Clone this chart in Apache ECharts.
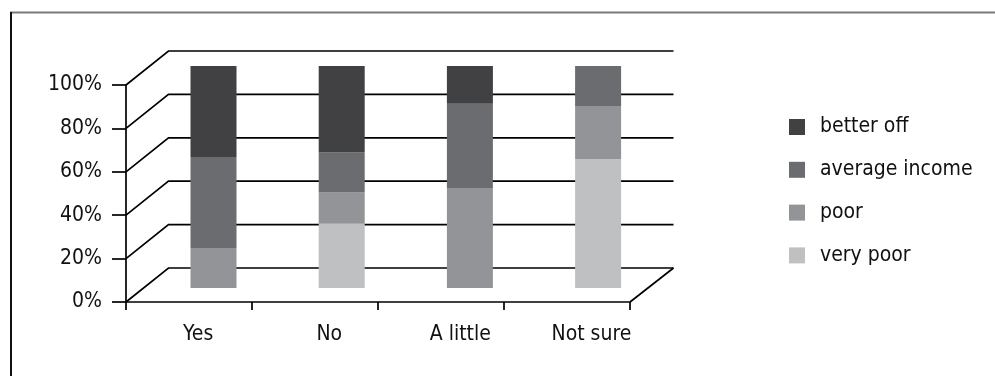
<!DOCTYPE html>
<html>
<head>
<meta charset="utf-8">
<title>Income group by answer</title>
<script src="https://cdn.jsdelivr.net/npm/echarts@6/dist/echarts.min.js"></script>
<style>
  html, body { margin: 0; padding: 0; background: #fff; }
  #chart { width: 995px; height: 376px; }
</style>
</head>
<body>
<div id="chart"></div>
<script>
// Answer categories along the floor
const categories = ['Yes', 'No', 'A little', 'Not sure'];

// Share of each income group per answer (percent, stacks to 100)
const veryPoor      = [0, 29, 0, 58];
const poor          = [18, 14, 45, 24];
const averageIncome = [41, 18, 38, 18];
const betterOff     = [41, 39, 17, 0];

// Value-axis ticks (percent)
const yTicks = [0, 20, 40, 60, 80, 100];

const seriesNames  = ['very poor', 'poor', 'average income', 'better off'];
const seriesValues = [veryPoor, poor, averageIncome, betterOff];
const seriesColors = ['#bfc0c2', '#939497', '#6b6c70', '#414143'];

const FONT = "'Liberation Sans Narrow', 'DejaVu Sans Condensed', 'Arial Narrow', sans-serif";
const FONT_SIZE = 21;

// Depth offset of the back wall relative to the front plane (pixels)
const DEPTH_X = 42.5;
const DEPTH_Y = -34;
const LINE = '#000';
const LINE_W = 1.7;

const chart = echarts.init(document.getElementById('chart'), null, { renderer: 'canvas' });

// Wall and floor lines: front-left point -> back-left corner -> back-right end
function renderWalls(params, api) {
  const cs = params.coordSys;
  const v = api.value(1);
  const y = api.coord([0, v])[1];
  const x0 = cs.x;
  const x1 = cs.x + cs.width;
  const children = [{
    type: 'polyline',
    shape: { points: [[x0, y], [x0 + DEPTH_X, y + DEPTH_Y], [x1 + DEPTH_X + 1, y + DEPTH_Y]] },
    style: { stroke: LINE, lineWidth: LINE_W, fill: null }
  }];
  if (v === 0) {
    children.push({
      type: 'line',
      shape: { x1: x1, y1: y, x2: x1 + DEPTH_X + 1, y2: y + DEPTH_Y },
      style: { stroke: LINE, lineWidth: LINE_W }
    });
  }
  return { type: 'group', children: children };
}

const barSeries = seriesNames.map((name, i) => ({
  name: name,
  type: 'bar',
  xAxisIndex: 1,
  yAxisIndex: 1,
  stack: 'share',
  barWidth: 46,
  z: 5,
  itemStyle: { color: seriesColors[i] },
  emphasis: { disabled: true },
  data: seriesValues[i]
}));

const option = {
  animation: false,
  textStyle: { fontFamily: FONT },
  graphic: [
    { type: 'line', shape: { x1: 10, y1: 12.5, x2: 995, y2: 12.5 }, style: { stroke: '#7a7a7a', lineWidth: 2 }, silent: true },
    { type: 'line', shape: { x1: 11, y1: 12, x2: 11, y2: 376 }, style: { stroke: '#111', lineWidth: 2 }, silent: true }
  ],
  legend: {
    data: ['better off', 'average income', 'poor', 'very poor'],
    orient: 'vertical',
    left: 789,
    top: 116.5,
    padding: 0,
    itemWidth: 16,
    itemHeight: 16,
    itemGap: 21.8,
    icon: 'rect',
    selectedMode: false,
    textStyle: { fontFamily: FONT, fontSize: FONT_SIZE, color: '#111', padding: [0, 0, 0, 10] }
  },
  grid: [
    // front plane: value axis and floor edge
    { left: 126, top: 85, width: 504, height: 217 },
    // mid-depth plane where the bars stand
    { left: 149.4, top: 66, width: 512.8, height: 222 },
    // category labels under the floor
    { left: 132.6, top: 85, width: 524.4, height: 217 }
  ],
  xAxis: [
    {
      gridIndex: 0, type: 'category', data: categories,
      axisLine: { show: true, lineStyle: { color: LINE, width: LINE_W } },
      axisTick: { show: true, length: 8, lineStyle: { color: LINE, width: LINE_W } },
      axisLabel: { show: false },
      splitLine: { show: false }
    },
    {
      gridIndex: 1, type: 'category', data: categories,
      axisLine: { show: false }, axisTick: { show: false }, axisLabel: { show: false }
    },
    {
      gridIndex: 2, type: 'category', data: categories,
      axisLine: { show: false }, axisTick: { show: false },
      axisLabel: { show: true, margin: 22, fontSize: FONT_SIZE, color: '#111', fontFamily: FONT }
    }
  ],
  yAxis: [
    {
      gridIndex: 0, type: 'value', min: 0, max: 100, interval: 20,
      axisLine: { show: true, lineStyle: { color: LINE, width: LINE_W } },
      axisTick: { show: true, length: 14, lineStyle: { color: LINE, width: LINE_W } },
      axisLabel: { margin: 24, fontSize: FONT_SIZE, color: '#111', fontFamily: FONT, formatter: '{value}%' },
      splitLine: { show: false }
    },
    {
      gridIndex: 1, type: 'value', min: 0, max: 100,
      axisLine: { show: false }, axisTick: { show: false }, axisLabel: { show: false }, splitLine: { show: false }
    },
    {
      gridIndex: 2, type: 'value', min: 0, max: 100, show: false
    }
  ],
  series: [
    {
      type: 'custom',
      name: 'walls',
      xAxisIndex: 0,
      yAxisIndex: 0,
      z: 1,
      silent: true,
      renderItem: renderWalls,
      data: yTicks.map(v => [0, v])
    }
  ].concat(barSeries)
};

chart.setOption(option);
</script>
</body>
</html>
